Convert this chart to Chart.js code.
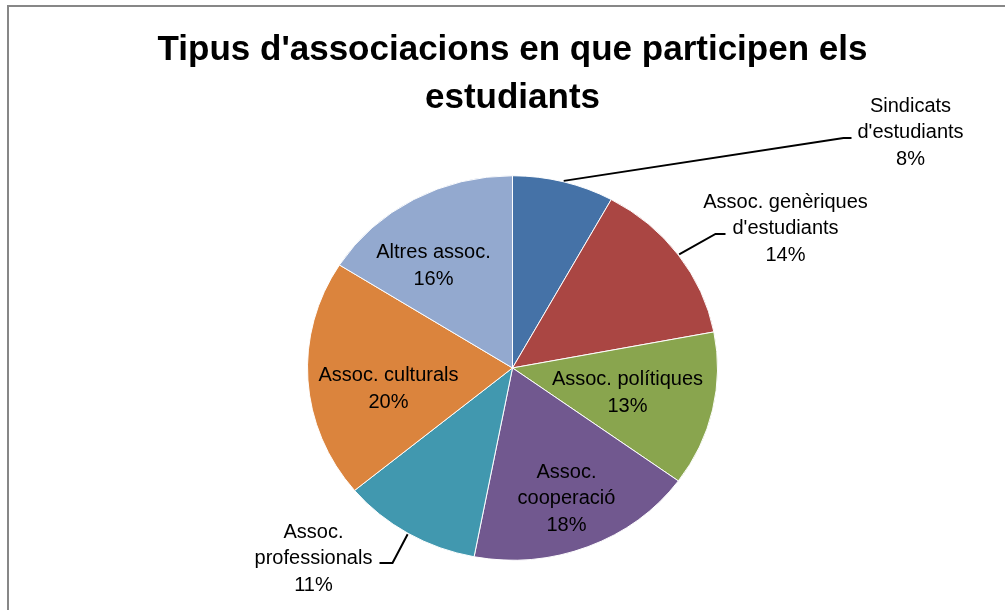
<!DOCTYPE html>
<html><head><meta charset="utf-8">
<script src="https://cdn.jsdelivr.net/npm/chart.js@4/dist/chart.umd.min.js"></script>
<style>html,body{margin:0;padding:0;background:#fff;overflow:hidden}canvas{display:block}</style>
</head><body>
<canvas id="c" width="1005" height="610"></canvas>
<script>
// ---- data ----
const titleLines = ["Tipus d'associacions en que participen els", "estudiants"];
const categories = [
  ["Sindicats", "d'estudiants"],
  ["Assoc. genèriques", "d'estudiants"],
  ["Assoc. polítiques"],
  ["Assoc.", "cooperació"],
  ["Assoc.", "professionals"],
  ["Assoc. culturals"],
  ["Altres assoc."]
];
const values = [8, 14, 13, 18, 11, 20, 16];
const colors = ['#4572A7', '#AA4643', '#89A54E', '#71588F', '#4198AF', '#DB843D', '#93A9CF'];

// ---- label placement (style: offsets of label block from pie centre, leader elbows) ----
const labelOffsets = [
  {dx: 398, dy: -235, elbow: [-67, 5], tick: [-59, 5]},
  {dx: 273, dy: -139, elbow: [-70, 5], tick: [-60, 5]},
  {dx: 115, dy: 25},
  {dx: 54, dy: 131},
  {dx: -199, dy: 191, elbow: [79, 4], tick: [66, 4]},
  {dx: -124, dy: 21},
  {dx: -79, dy: -102}
];
const ySquash = 0.9376;
const lineH = 26.5;

const ellipsePlugin = {
  id: 'ellipse',
  beforeDatasetsDraw(chart) {
    const arc = chart.getDatasetMeta(0).data[0];
    const ctx = chart.ctx;
    ctx.save();
    ctx.translate(arc.x, arc.y);
    ctx.scale(1, ySquash);
    ctx.translate(-arc.x, -arc.y);
  },
  afterDatasetsDraw(chart) {
    chart.ctx.restore();
  }
};

const framePlugin = {
  id: 'frame',
  beforeDraw(chart) {
    const ctx = chart.ctx;
    ctx.save();
    ctx.fillStyle = '#fff';
    ctx.fillRect(0, 0, chart.width, chart.height);
    ctx.strokeStyle = '#878787';
    ctx.lineWidth = 2;
    ctx.beginPath();
    ctx.moveTo(8, chart.height);
    ctx.lineTo(8, 6);
    ctx.lineTo(chart.width, 6);
    ctx.stroke();
    ctx.restore();
  }
};

const labelPlugin = {
  id: 'labels',
  afterDraw(chart) {
    const ctx = chart.ctx;
    const meta = chart.getDatasetMeta(0);
    const total = values.reduce((a, b) => a + b, 0);
    ctx.save();
    ctx.font = '20px "Liberation Sans", Arial, sans-serif';
    ctx.fillStyle = '#000';
    ctx.textAlign = 'center';
    ctx.textBaseline = 'middle';
    meta.data.forEach((arc, i) => {
      const p = labelOffsets[i];
      const lx = arc.x + p.dx, ly = arc.y + p.dy;
      const lines = categories[i].concat([Math.round(values[i] / total * 100) + '%']);
      const y0 = ly - (lines.length - 1) * lineH / 2;
      lines.forEach((t, k) => ctx.fillText(t, lx, y0 + k * lineH));
      if (p.elbow) {
        const a = (arc.startAngle + arc.endAngle) / 2;
        const r = arc.outerRadius + 1;
        const sx = arc.x + r * Math.cos(a);
        const sy = arc.y + r * Math.sin(a) * ySquash;
        ctx.save();
        ctx.strokeStyle = '#000';
        ctx.lineWidth = 2;
        ctx.beginPath();
        ctx.moveTo(sx, sy);
        ctx.lineTo(lx + p.elbow[0], ly + p.elbow[1]);
        ctx.lineTo(lx + p.tick[0], ly + p.tick[1]);
        ctx.stroke();
        ctx.restore();
      }
    });
    ctx.restore();
  }
};

new Chart(document.getElementById('c'), {
  type: 'pie',
  data: {
    labels: categories.map(c => c.join(' ')),
    datasets: [{
      data: values,
      backgroundColor: colors,
      borderColor: '#ffffff',
      borderWidth: 1,
      hoverOffset: 0
    }]
  },
  options: {
    responsive: false,
    animation: false,
    events: [],
    radius: 205,
    layout: {padding: {left: 20, right: 0, top: 0, bottom: 0}},
    plugins: {
      legend: {display: false},
      tooltip: {enabled: false},
      title: {
        display: true,
        text: titleLines,
        color: '#000',
        font: {family: '"Liberation Sans", Arial, sans-serif', size: 35, weight: 'bold', lineHeight: 1.35},
        padding: {top: 27, bottom: 4.4}
      }
    }
  },
  plugins: [framePlugin, ellipsePlugin, labelPlugin]
});
</script>
</body></html>
